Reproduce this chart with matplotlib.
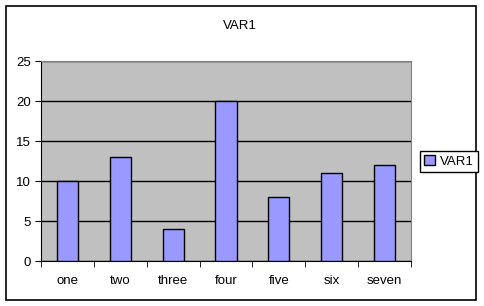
import matplotlib.pyplot as plt
from matplotlib.patches import Rectangle

# datos
categorias = ['one', 'two', 'three', 'four', 'five', 'six', 'seven']
valores = [10, 13, 4, 20, 8, 11, 12]
ticks_y = [0, 5, 10, 15, 20, 25]

plt.rcParams['font.family'] = ['Liberation Sans', 'DejaVu Sans']
plt.rcParams['font.size'] = 9.5

W, H = 484, 306
fig = plt.figure(figsize=(W / 100, H / 100), dpi=100)
fig.patch.set_facecolor('white')

# marco exterior del grafico
fig.patches.append(Rectangle((5.5 / W, 1 - 299.5 / H), 470 / W, 294 / H,
                             transform=fig.transFigure, fill=False,
                             edgecolor='black', linewidth=1.2))

ax = fig.add_axes([41 / W, 1 - 261 / H, 370 / W, 200 / H])
ax.set_facecolor('#C0C0C0')

x = range(len(categorias))
barras = ax.bar(x, valores, width=0.4, color='#9999FF', edgecolor='black',
                linewidth=1, label='VAR1', zorder=3)

ax.set_xlim(-0.5, len(categorias) - 0.5)
ax.set_ylim(0, 25)
ax.set_yticks(ticks_y)
ax.yaxis.grid(True, color='black', linewidth=1)
ax.set_axisbelow(True)

ax.set_xticks(list(x))
ax.set_xticklabels(categorias)
ax.set_xticks([i - 0.5 for i in range(len(categorias) + 1)], minor=True)
ax.tick_params(axis='x', which='major', length=0, pad=10)
ax.tick_params(axis='x', which='minor', length=4, direction='out', color='black')
ax.tick_params(axis='y', length=4, direction='out', pad=3, color='black')

ax.spines['left'].set_color('black')
ax.spines['bottom'].set_color('black')
ax.spines['top'].set_color('#808080')
ax.spines['right'].set_color('#808080')

fig.text(240 / W, 1 - 26 / H, 'VAR1', ha='center', va='center')

leg = fig.legend(handles=[barras], labels=['VAR1'], loc='center left',
                 bbox_to_anchor=(420 / W, 1 - 161.5 / H), frameon=True,
                 fancybox=False, edgecolor='black', framealpha=1,
                 handlelength=0.8, handleheight=0.8, handletextpad=0.4,
                 borderpad=0.3, borderaxespad=0)
leg.get_frame().set_linewidth(1)

fig.savefig('out.png', dpi=100)
